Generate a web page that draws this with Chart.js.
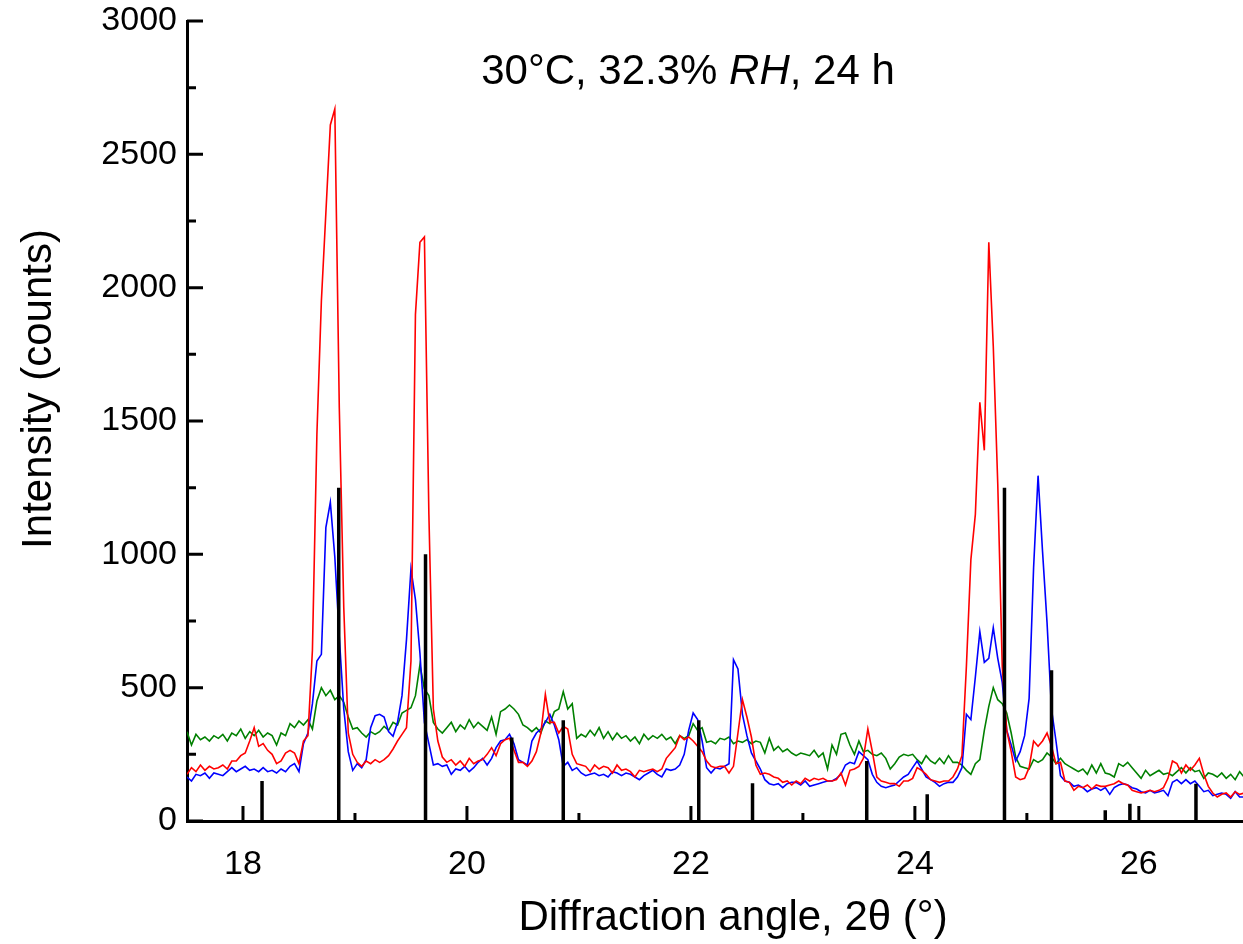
<!DOCTYPE html>
<html>
<head>
<meta charset="utf-8">
<script src="https://cdn.jsdelivr.net/npm/chart.js@4.4.1/dist/chart.umd.min.js"></script>
<style>
html,body{margin:0;padding:0;background:#fff;}
#wrap{width:1243px;height:944px;position:relative;}
canvas{display:block;}
</style>
</head>
<body>
<div id="wrap"><canvas id="c" width="1243" height="944"></canvas></div>
<script>
// ---- sampling grid of the diffraction patterns (2θ, degrees) ----
const angleStart = 17.5;
const angleStep = 0.04;

// ---- intensities (counts), one value per grid step ----
const redCounts = [
175,200,185,210,190,205,195,200,210,195,
225,225,245,255,300,350,280,290,265,250,
215,225,255,265,255,215,300,320,640,1450,
1950,2280,2610,2670,1550,800,330,250,220,205,
225,215,230,220,230,245,270,300,325,350,
600,1900,2170,2190,1150,420,300,240,220,230,
210,225,205,235,215,225,230,250,275,245,
290,305,310,265,220,220,205,225,260,330,
475,370,370,330,355,345,250,215,210,205,
185,210,195,205,200,180,210,190,195,185,
165,190,185,190,195,185,195,235,255,275,
320,305,315,300,280,260,225,205,200,205,
205,180,205,330,455,390,315,210,175,180,
175,165,160,145,150,135,150,140,160,150,
160,155,160,150,150,155,180,135,190,195,
205,235,345,260,165,150,145,140,140,130,
150,150,160,200,190,175,155,150,145,150,
150,165,195,245,580,980,1150,1570,1390,2170,
1780,1265,580,340,260,165,155,160,200,300,
280,300,330,280,215,220,150,145,115,130,
125,135,120,135,130,130,135,140,150,140,
135,115,110,105,110,115,110,115,125,160,
225,215,180,210,190,210,235,175,130,105,
90,100,105,90,110,100,105
];

const blueCounts = [
165,150,175,170,180,160,180,175,170,185,
200,185,195,205,190,195,185,200,185,190,
180,195,185,205,215,185,290,330,440,600,
625,1100,1195,990,690,420,260,190,215,200,
230,350,395,400,390,335,318,370,470,680,
945,830,630,370,290,210,215,205,210,175,
195,190,205,185,200,220,235,210,235,275,
300,305,325,290,230,220,210,300,330,345,
370,400,360,305,205,220,190,200,180,170,
175,180,170,175,165,185,180,170,180,175,
165,155,170,180,190,175,165,195,190,195,
210,250,340,405,380,300,200,180,200,195,
205,215,605,570,400,320,255,225,195,155,
140,135,140,125,140,145,145,135,150,130,
135,140,145,150,150,160,175,210,220,215,
260,245,230,175,145,130,125,130,135,150,
165,175,200,225,195,165,155,145,130,140,
145,145,165,200,400,380,540,710,595,610,
725,610,520,340,285,225,260,320,460,950,
1295,1010,745,420,300,170,150,145,130,135,
125,110,120,125,115,125,100,125,135,140,
135,125,120,110,105,115,105,110,115,95,
145,155,140,155,140,150,130,110,115,95,
100,105,100,85,110,90,90
];

const greenCounts = [
335,285,325,305,315,300,320,310,325,300,
330,320,345,310,335,320,340,315,330,320,
285,330,320,365,350,375,360,380,345,450,
500,470,490,455,470,445,390,345,350,330,
315,335,325,335,355,340,370,360,405,415,
425,470,585,495,470,370,345,330,350,370,
335,360,345,380,350,370,355,340,390,325,
410,420,435,420,400,360,350,335,350,330,
375,365,410,420,485,420,440,310,325,315,
340,320,350,310,335,305,330,310,320,300,
315,290,325,305,320,310,325,305,315,290,
320,310,320,365,340,350,295,300,290,310,
305,315,290,300,295,305,290,300,295,255,
310,265,280,260,270,255,245,255,250,245,
265,240,255,195,285,250,325,330,285,250,
300,260,265,250,245,255,235,195,215,240,
250,245,250,230,215,245,225,215,235,215,
245,220,220,210,190,175,215,230,340,430,
500,455,440,405,330,240,205,200,195,230,
220,230,255,240,215,235,215,205,195,185,
195,175,210,180,215,180,175,165,215,205,
220,200,180,160,190,170,180,190,175,180,
170,185,200,180,200,185,190,160,180,175,
165,180,160,175,155,185,165
];

// ---- reference stick pattern ----
const stickAngles  = [18.17, 18.855, 19.63, 20.40, 20.86, 22.07, 22.55, 23.57, 24.11, 24.80, 25.22, 25.70, 25.92, 26.51];
const stickHeights = [150,   1250,   1000,  313,   378,   378,   142,   225,   100,   1250,  565,   40,    65,    140];

// ---- axes ----
const xLabelTicks = [18, 20, 22, 24, 26];
const xMinorTicks = [19, 21, 23, 25];
const yLabelTicks = [0, 500, 1000, 1500, 2000, 2500, 3000];
const yMinorTicks = [250, 750, 1250, 1750, 2250, 2750];

const xTitle = 'Diffraction angle, 2\u03B8 (\u00B0)';
const yTitle = 'Intensity (counts)';
const titleParts = ['30\u00B0C, 32.3% ', 'RH', ', 24 h'];
const titleItalic = [false, true, false];

const FONT = '"Liberation Sans", Arial, Helvetica, sans-serif';

function toPoints(arr) {
  return arr.map((v, i) => ({ x: +(angleStart + i * angleStep).toFixed(2), y: v }));
}
function stickPoints() {
  const pts = [];
  stickAngles.forEach((a, i) => {
    pts.push({ x: a, y: 0 });
    pts.push({ x: a, y: stickHeights[i] });
    pts.push({ x: a, y: null });
  });
  return pts;
}

const decor = {
  id: 'decor',
  afterDatasetsDraw(chart) {
    const { ctx, chartArea: ca, scales } = chart;
    const xs = scales.x, ys = scales.y;
    ctx.save();
    ctx.strokeStyle = '#000';
    ctx.lineWidth = 3;
    ctx.lineCap = 'butt';
    ctx.beginPath();
    yLabelTicks.forEach(v => { const p = ys.getPixelForValue(v); ctx.moveTo(ca.left, p); ctx.lineTo(ca.left + 16, p); });
    yMinorTicks.forEach(v => { const p = ys.getPixelForValue(v); ctx.moveTo(ca.left, p); ctx.lineTo(ca.left + 9, p); });
    xLabelTicks.forEach(v => { const p = xs.getPixelForValue(v); ctx.moveTo(p, ca.bottom); ctx.lineTo(p, ca.bottom - 15); });
    xMinorTicks.forEach(v => { const p = xs.getPixelForValue(v); ctx.moveTo(p, ca.bottom); ctx.lineTo(p, ca.bottom - 8); });
    ctx.stroke();
    ctx.restore();
  },
  afterDraw(chart) {
    const { ctx } = chart;
    ctx.save();
    ctx.fillStyle = '#000';
    ctx.textBaseline = 'alphabetic';
    // title with italic RH
    const size = 42;
    const fonts = titleItalic.map(it => (it ? 'italic ' : '') + size + 'px ' + FONT);
    let total = 0;
    const widths = titleParts.map((t, i) => { ctx.font = fonts[i]; const w = ctx.measureText(t).width; total += w; return w; });
    let x = 688 - total / 2;
    titleParts.forEach((t, i) => { ctx.font = fonts[i]; ctx.textAlign = 'left'; ctx.fillText(t, x, 84); x += widths[i]; });
    // x axis title
    ctx.font = '42px ' + FONT;
    ctx.textAlign = 'center';
    ctx.fillText(xTitle, 733, 930);
    // y axis title
    ctx.translate(51, 389);
    ctx.rotate(-Math.PI / 2);
    ctx.fillText(yTitle, 0, 0);
    ctx.restore();
  }
};

new Chart(document.getElementById('c'), {
  type: 'line',
  data: {
    datasets: [
      { label: 'sticks', data: stickPoints(), borderColor: '#000', borderWidth: 3.5, borderCapStyle: 'butt', pointRadius: 0, spanGaps: false, order: 0 },
      { label: 'red', data: toPoints(redCounts), borderColor: '#ff0000', borderWidth: 1.6, pointRadius: 0, tension: 0, order: 1 },
      { label: 'blue', data: toPoints(blueCounts), borderColor: '#0000ff', borderWidth: 1.6, pointRadius: 0, tension: 0, order: 2 },
      { label: 'green', data: toPoints(greenCounts), borderColor: '#008000', borderWidth: 1.6, pointRadius: 0, tension: 0, order: 3 }
    ]
  },
  options: {
    responsive: false,
    animation: false,
    devicePixelRatio: 1,
    events: [],
    layout: { padding: { top: 21, left: 0, right: 0, bottom: 0 } },
    plugins: { legend: { display: false }, tooltip: { enabled: false }, title: { display: false } },
    scales: {
      x: {
        type: 'linear', min: 17.5, max: 26.93,
        afterBuildTicks: s => { s.ticks = xLabelTicks.map(v => ({ value: v })); },
        afterFit: s => { s.height = 123; s.paddingLeft = 0; s.paddingRight = 0; },
        ticks: { font: { family: FONT, size: 34 }, color: '#000', padding: 23, maxRotation: 0, autoSkip: false, callback: v => String(v) },
        grid: { display: false, drawTicks: false, tickLength: 0 },
        border: { display: true, color: '#000', width: 3 }
      },
      y: {
        type: 'linear', min: 0, max: 3000,
        afterBuildTicks: s => { s.ticks = yLabelTicks.map(v => ({ value: v })); },
        afterFit: s => { s.width = 187; s.paddingTop = 0; s.paddingBottom = 0; },
        ticks: { font: { family: FONT, size: 34 }, color: '#000', padding: 10, callback: v => String(v) },
        grid: { display: false, drawTicks: false, tickLength: 0 },
        border: { display: true, color: '#000', width: 3 }
      }
    }
  },
  plugins: [decor]
});
</script>
</body>
</html>
